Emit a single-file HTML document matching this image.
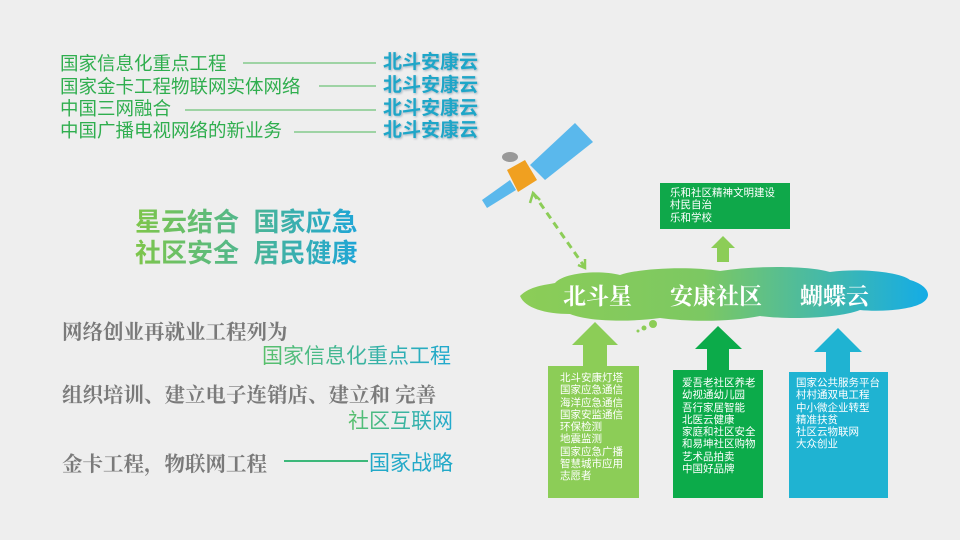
<!DOCTYPE html>
<html><head><meta charset="utf-8"><style>
body{margin:0;width:960px;height:540px;background:#eeeeee;position:relative;overflow:hidden;font-family:"Liberation Sans","Noto Sans CJK SC",sans-serif}
.a{position:absolute;white-space:nowrap}
.g{color:#2fae4e;font-size:18.5px;line-height:22px}
.b{color:#1ea6c8;font-size:19px;font-weight:bold;text-shadow:1px 1px 2px rgba(0,60,100,.35);line-height:22px}
.big{font-size:26px;font-weight:bold;background:linear-gradient(90deg,#7ec64a,#1fa6d6);-webkit-background-clip:text;background-clip:text;color:transparent}
.gr{color:#7a7a7a;font-size:20.5px;font-weight:bold;font-family:"Noto Serif CJK SC",serif}
.gt{font-size:21px;font-family:"Noto Sans CJK SC",sans-serif;background:linear-gradient(90deg,#59c06a,#21a9cf);-webkit-background-clip:text;background-clip:text;color:transparent}
.box{position:absolute;color:#fff;font-size:10.5px;line-height:12.3px;box-sizing:border-box}
.cl{position:absolute;color:#fff;font-size:23px;font-family:"Noto Serif CJK SC",serif;font-weight:bold}
</style></head><body>
<div class="a g" style="left:60px;top:53px">国家信息化重点工程</div>
<div class="a g" style="left:60px;top:76px">国家金卡工程物联网实体网络</div>
<div class="a g" style="left:60px;top:98px">中国三网融合</div>
<div class="a g" style="left:60px;top:120px">中国广播电视网络的新业务</div>
<svg class="a" style="left:0;top:0" width="960" height="540">
<g stroke="#4db85a" stroke-width="1"><line x1="243" y1="63" x2="376" y2="63"/><line x1="319" y1="86" x2="376" y2="86"/><line x1="185" y1="110" x2="376" y2="110"/><line x1="294" y1="132" x2="376" y2="132"/></g>
<defs><linearGradient id="cg" x1="0" x2="1"><stop offset="0" stop-color="#8ccd57"/><stop offset=".45" stop-color="#7cc862"/><stop offset="1" stop-color="#14ace6"/></linearGradient></defs>
<path d="M520,296 C530,286 545,285 555,283 C565,272 600,270 620,275 C640,268 690,266 720,271 C760,265 810,266 830,272 C860,268 900,272 910,280 C925,284 935,295 922,303 C910,310 880,312 860,310 C840,318 790,320 760,316 C730,322 690,322 660,318 C630,322 590,322 570,314 C545,314 525,308 520,296Z" fill="url(#cg)"/>
<circle cx="653" cy="324" r="4" fill="#8ccd57"/><circle cx="644" cy="328" r="2.5" fill="#8ccd57"/><circle cx="638" cy="331" r="1.5" fill="#8ccd57"/>
<polygon points="595,322 618,345 607,345 607,366 583,366 583,345 572,345" fill="#8ccd57"/>
<polygon points="718,326 742,349 729,349 729,370 707,370 707,349 695,349" fill="#0cab4a"/>
<polygon points="838,328 862,352 850,352 850,372 826,372 826,352 814,352" fill="#1fb3d2"/>
<polygon points="723,236 735,248 729,248 729,262 717,262 717,248 711,248" fill="#8ccd57"/>
<line x1="533" y1="193" x2="584" y2="266" stroke="#8ccd57" stroke-width="3" stroke-dasharray="7,5"/>
<polyline points="530,203 533,193 540,200" fill="none" stroke="#8ccd57" stroke-width="2.5"/>
<polyline points="578,265 585,268 585,259" fill="none" stroke="#8ccd57" stroke-width="2.5"/>
<polygon points="482,200 510,180 516,190 487,208" fill="#5ab8ec"/>
<polygon points="530,165 575,123 593,142 545,180" fill="#5ab8ec"/>
<polygon points="507,170 525,160 537,180 518,192" fill="#f0a020"/>
<ellipse cx="510" cy="157" rx="8" ry="5" fill="#999"/>
</svg>
<div class="a big" style="left:135px;top:202px">星云结合&nbsp;&nbsp;国家应急</div>
<div class="a big" style="left:135px;top:233px">社区安全&nbsp;&nbsp;居民健康</div>
<div class="a b" style="left:383px;top:52px">北斗安康云</div>
<div class="a b" style="left:383px;top:75px">北斗安康云</div>
<div class="a b" style="left:383px;top:98px">北斗安康云</div>
<div class="a b" style="left:383px;top:120px">北斗安康云</div>
<div class="a gr" style="left:62px;top:315px">网络创业再就业工程列为</div>
<div class="a gt" style="right:509px;top:340px">国家信息化重点工程</div>
<div class="a gr" style="left:62px;top:378px">组织培训、建立电子连销店、建立和 完善</div>
<div class="a gt" style="right:507px;top:405px">社区互联网</div>
<div class="a gr" style="left:62px;top:447px">金卡工程，物联网工程</div>
<div class="a" style="left:284px;top:460px;width:84px;height:2px;background:#3cb87a"></div>
<div class="a" style="left:369px;top:447px;font-size:21px;color:#22a9c8;font-family:'Noto Sans CJK SC',sans-serif">国家战略</div>
<div class="cl" style="left:563px;top:278px">北斗星</div>
<div class="cl" style="left:670px;top:278px">安康社区</div>
<div class="cl" style="left:800px;top:278px">蝴蝶云</div>
<div class="box" style="left:660px;top:183px;width:130px;height:46px;background:#0fa84a;padding:4px 0 0 10px">乐和社区精神文明建设<br>村民自治<br>乐和学校</div>
<div class="box" style="left:548px;top:366px;width:91px;height:132px;background:#8ccd57;padding:6px 0 0 12px">北斗安康灯塔<br>国家应急通信<br>海洋应急通信<br>国家安监通信<br>环保检测<br>地震监测<br>国家应急广播<br>智慧城市应用<br>志愿者</div>
<div class="box" style="left:673px;top:370px;width:90px;height:128px;background:#0cab4a;padding:7px 0 0 9px">爱吾老社区养老<br>幼视通幼儿园<br>吾行家居智能<br>北医云健康<br>家庭和社区安全<br>和易坤社区购物<br>艺术品拍卖<br>中国好品牌</div>
<div class="box" style="left:789px;top:372px;width:99px;height:126px;background:#1fb3d2;padding:5px 0 0 7px">国家公共服务平台<br>村村通双电工程<br>中小微企业转型<br>精准扶贫<br>社区云物联网<br>大众创业</div>
</body></html>
